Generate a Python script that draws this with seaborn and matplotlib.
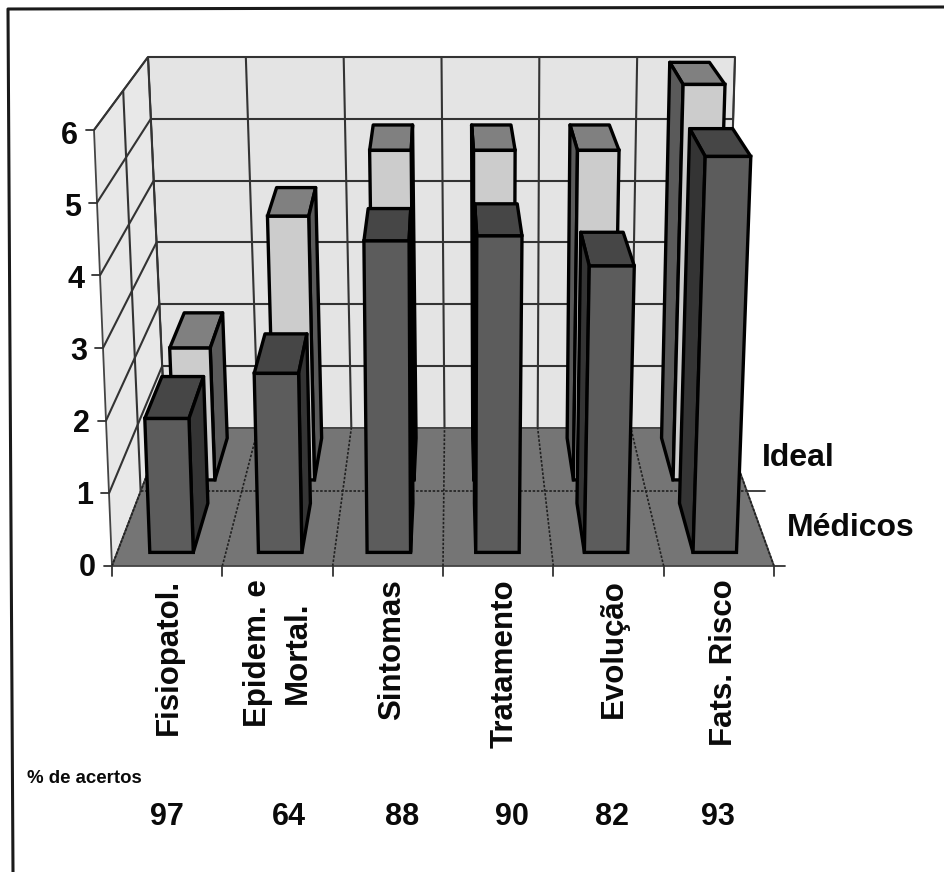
import matplotlib
matplotlib.use("Agg")
import matplotlib.pyplot as plt
import numpy as np
import seaborn as sns
from matplotlib.patches import Polygon
from matplotlib.transforms import Transform

sns.set_theme(style="white")
plt.rcParams['font.family'] = ['Liberation Sans', 'DejaVu Sans']

categories = ['Fisiopatol.', 'Epidem. e\nMortal.', 'Sintomas', 'Tratamento', 'Evolução', 'Fats. Risco']
ideal = [2, 4, 5, 5, 5, 6]
medicos = [1.87, 2.5, 4.35, 4.42, 4.0, 5.53]
acertos = [97, 64, 88, 90, 82, 93]
value_ticks = [0, 1, 2, 3, 4, 5, 6]

W, H = 945, 872
K = 0.85  # back width / front width, drives the depth foreshortening
N = len(categories)
ZMAX = 6


def project(x, d, z):
    # category position, depth 0-1, value -> picture pixels
    x, d, z = np.asarray(x, float), np.asarray(d, float), np.asarray(z, float)
    u = (x + 0.5) / N
    f = z / ZMAX
    t = d / (d + K * (1 - d))
    left = (112 - 18 * f) * (1 - t) + (165 - 17 * f) * t
    right = (774 + 18 * f) * (1 - t) + (724 + 11 * f) * t
    y = (566 - 436 * f) * (1 - t) + (428 - 371 * f) * t
    return left + (right - left) * u, y


class BarPlane(Transform):
    input_dims = 2
    output_dims = 2
    is_separable = False
    has_inverse = False

    def __init__(self, plane):
        super().__init__()
        self.plane = plane

    def transform_non_affine(self, values):
        values = np.asarray(values, float)
        px, py = project(values[:, 0], self.plane, values[:, 1])
        return np.column_stack([px, py])


fig = plt.figure(figsize=(W / 100, H / 100), dpi=100)
ax = fig.add_axes([0, 0, 1, 1])


def face(points, color, zorder, lw=2.4):
    xy = [project(*p) for p in points]
    ax.add_patch(Polygon(xy, closed=True, facecolor=color, edgecolor='black',
                         linewidth=lw, joinstyle='round', zorder=zorder))


def line(a, b, color='#333333', lw=1.5, ls='-', zorder=2):
    pa, pb = project(*a), project(*b)
    ax.plot([pa[0], pb[0]], [pa[1], pb[1]], color=color, lw=lw, ls=ls, zorder=zorder,
            solid_capstyle='butt')


def draw_series(values, d0, d1, front, top, side, zorder):
    sns.barplot(x=categories, y=values, color=front, saturation=1, width=0.4,
                edgecolor='black', linewidth=2.4, ax=ax)
    for bar in ax.containers[-1]:
        x0 = bar.get_x()
        x1 = x0 + bar.get_width()
        z = bar.get_height()
        bar.set_transform(BarPlane(d0) + ax.transData)
        bar.set_zorder(zorder + 1)
        bar.set_clip_on(False)
        face([(x0, d0, z), (x1, d0, z), (x1, d1, z), (x0, d1, z)], top, zorder)
        if project(x1, d1, 0)[0] > project(x1, d0, 0)[0]:
            face([(x1, d0, 0), (x1, d1, 0), (x1, d1, z), (x1, d0, z)], side, zorder)
        if project(x0, d1, 0)[0] < project(x0, d0, 0)[0]:
            face([(x0, d0, 0), (x0, d1, 0), (x0, d1, z), (x0, d0, z)], side, zorder)


XL, XR = -0.5, N - 0.5

# walls and floor
for pts, col in [
    ([(XL, 1, 0), (XR, 1, 0), (XR, 1, ZMAX), (XL, 1, ZMAX)], '#e4e4e4'),
    ([(XL, 0, 0), (XL, 1, 0), (XL, 1, ZMAX), (XL, 0, ZMAX)], '#e8e8e8'),
    ([(XL, 0, 0), (XR, 0, 0), (XR, 1, 0), (XL, 1, 0)], '#757575'),
]:
    ax.add_patch(Polygon([project(*p) for p in pts], closed=True, facecolor=col,
                         edgecolor='#444444', linewidth=1.3, zorder=1))

# grid
for z in value_ticks[1:]:
    line((XL, 1, z), (XR, 1, z))
    line((XL, 0, z), (XL, 1, z))
for i in range(N + 1):
    line((i - 0.5, 1, 0), (i - 0.5, 1, ZMAX))
    line((i - 0.5, 0, 0), (i - 0.5, 1, 0), color='#202020', lw=1.2, ls=(0, (1.5, 1)))
line((XL, 0.5, 0), (XL, 0.5, ZMAX))
line((XL, 0.5, 0), (XR, 0.5, 0), color='#202020', lw=1.2, ls=(0, (1.5, 1)))

draw_series(ideal, 0.585, 0.915, '#cccccc', '#808080', '#5a5a5a', 4)
draw_series(medicos, 0.085, 0.415, '#5c5c5c', '#464646', '#343434', 8)

ax.set_xlim(0, W)
ax.set_ylim(H, 0)
ax.set_autoscale_on(False)
ax.set_axis_off()

# ticks
for z in value_ticks:
    px, py = project(XL, 0, z)
    ax.plot([px - 8, px], [py, py], color='#333333', lw=1.3, zorder=2)
    ax.text(px - 16, py + 2 + 0.7 * z, str(z), ha='right', va='center', fontsize=22,
            fontweight='bold', color='#0a0a0a')
for i in range(N + 1):
    px, py = project(i - 0.5, 0, 0)
    ax.plot([px, px], [py, py + 10], color='#333333', lw=1.3, zorder=2)
for d, length in [(0, 11), (0.5, 18)]:
    px, py = project(XR, d, 0)
    ax.plot([px, px + length], [py, py], color='#333333', lw=1.3, zorder=2)

# category labels, then the hit rates under them
label_x = [169, 278, 392, 505, 614, 724]
for x, name in zip(label_x, categories):
    ax.text(x, 579, name, rotation=90, ha='center', va='top', ma='center', fontsize=22.5,
            fontweight='bold', color='#0a0a0a', linespacing=1.4)
acertos_x = [167, 289, 402, 512, 612, 718]
for x, val in zip(acertos_x, acertos):
    ax.text(x, 817, str(val), ha='center', va='center', fontsize=22, fontweight='bold', color='#0a0a0a')
ax.text(27, 778, '% de acertos', ha='left', va='center', fontsize=13.4, fontweight='bold', color='#0a0a0a')

ax.text(762, 458, 'Ideal', ha='left', va='center', fontsize=23, fontweight='bold', color='#0a0a0a')
ax.text(787, 528, 'Médicos', ha='left', va='center', fontsize=23, fontweight='bold', color='#0a0a0a')

# frame: only the top and left edges survive in the scan
ax.plot([13, 8, W], [H, 9, 7], color='#1a1a1a', lw=2.2, zorder=20)

fig.savefig("out.png", dpi=100)
